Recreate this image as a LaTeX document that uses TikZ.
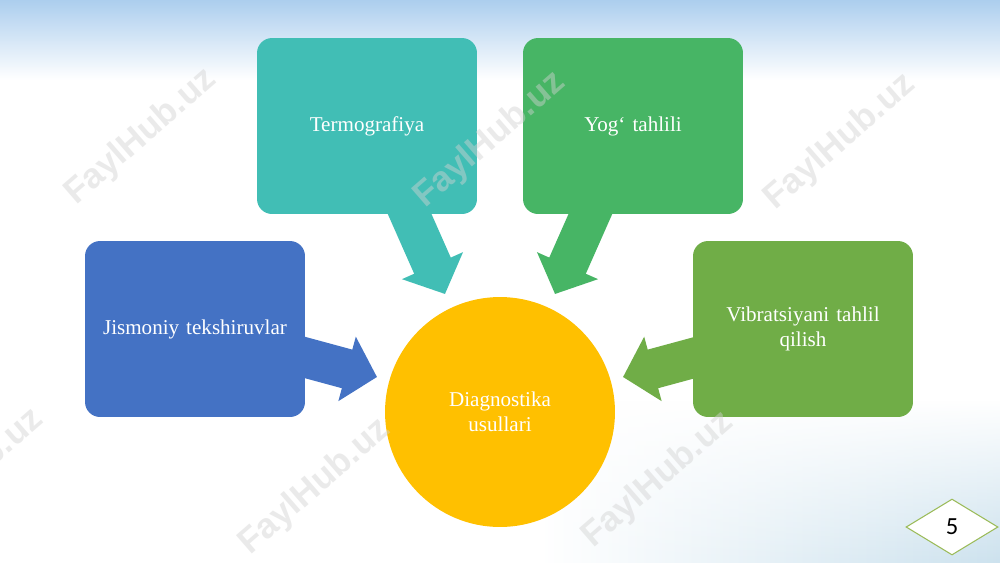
\documentclass[tikz,border=0pt]{standalone}
\usepackage{fontspec}
\setmainfont{Liberation Serif}
\newfontfamily\wmfont{Liberation Sans}
\newfontfamily\numfont{Carlito}
\usetikzlibrary{arrows.meta,shapes.geometric,positioning,fadings}
\pgfdeclarelayer{back}
\pgfdeclarelayer{under}
\pgfsetlayers{back,under,main}
\definecolor{termcol}{RGB}{65,190,181}
\definecolor{yogcol}{RGB}{71,181,101}
\definecolor{jiscol}{RGB}{68,114,196}
\definecolor{vibcol}{RGB}{112,173,71}
\definecolor{diagcol}{RGB}{255,192,0}
\definecolor{pagecol}{RGB}{155,187,89}
\definecolor{skytop}{RGB}{172,206,238}
\definecolor{cityblue}{RGB}{205,226,238}
\tikzset{
	box/.style={rounded corners=0.3cm, minimum width=4.4cm, minimum height=3.52cm,
		text width=4cm, align=center, text=white, font=\fontsize{12}{14}\selectfont},
	blockarrow/.style={line width=0.8cm, -{Triangle[length=0.62cm,width=1.3cm]}},
	watermark/.style={font=\wmfont\bfseries\fontsize{20}{20}\selectfont,
		text=gray!35, opacity=0.45, rotate=41}
}

\begin{document}
\begin{tikzpicture}[x=0.02cm, y=-0.02cm]
			\useasboundingbox (0,0) rectangle (1000,562);
			\begin{pgfonlayer}{back}
				\fill[white] (0,0) rectangle (1000,562);
				\shade[top color=skytop, bottom color=white] (0,0) rectangle (1000,80);
				\shade[left color=white, right color=cityblue, path fading=north] (540,400) rectangle (1000,562);
			\end{pgfonlayer}
			% boxes
			\node[box, fill=termcol] (term) at (367,126) {Termografiya};
			\node[box, fill=yogcol] (yog) at (633,126) {Yog‘ tahlili};
			\node[box, fill=jiscol] (jism) at (195,329) {Jismoniy tekshiruvlar};
			\node[box, fill=vibcol] (vib) at (803,329) {Vibratsiyani tahlil\\qilish};
			\node[circle, fill=diagcol, minimum size=4.6cm, text=white, align=center,
				font=\fontsize{12}{14}\selectfont] (diag) at (500,412) {Diagnostika\\usullari};
			% arrows
			\coordinate (termIn) at (403,199);
			\coordinate (termTip) at (445,294);
			\coordinate (yogIn) at (597,199);
			\coordinate (yogTip) at (555,294);
			\coordinate (jismIn) at (281,351);
			\coordinate (jismTip) at (377,377);
			\coordinate (vibIn) at (719,351);
			\coordinate (vibTip) at (623,377);
			\begin{pgfonlayer}{under}
				\draw[blockarrow, termcol] (termIn)--(termTip);
				\draw[blockarrow, yogcol] (yogIn)--(yogTip);
				\draw[blockarrow, jiscol] (jismIn)--(jismTip);
				\draw[blockarrow, vibcol] (vibIn)--(vibTip);
			\end{pgfonlayer}
			% page number
			\node[diamond, draw=pagecol, fill=white, line width=0.6pt, inner sep=0pt,
				minimum width=1.84cm, minimum height=1.12cm,
				font=\numfont\fontsize{14}{14}\selectfont] (page) at (952,527) {5};
			% watermarks
			\node[watermark] (wm1) at (141,137) {FaylHub.uz};
			\node[watermark] (wm2) at (490,140) {FaylHub.uz};
			\node[watermark] (wm3) at (840,142) {FaylHub.uz};
			\node[watermark] (wm4) at (-32,477) {FaylHub.uz};
			\node[watermark] (wm5) at (315,487) {FaylHub.uz};
			\node[watermark] (wm6) at (658,480) {FaylHub.uz};
		\end{tikzpicture}
\end{document}
